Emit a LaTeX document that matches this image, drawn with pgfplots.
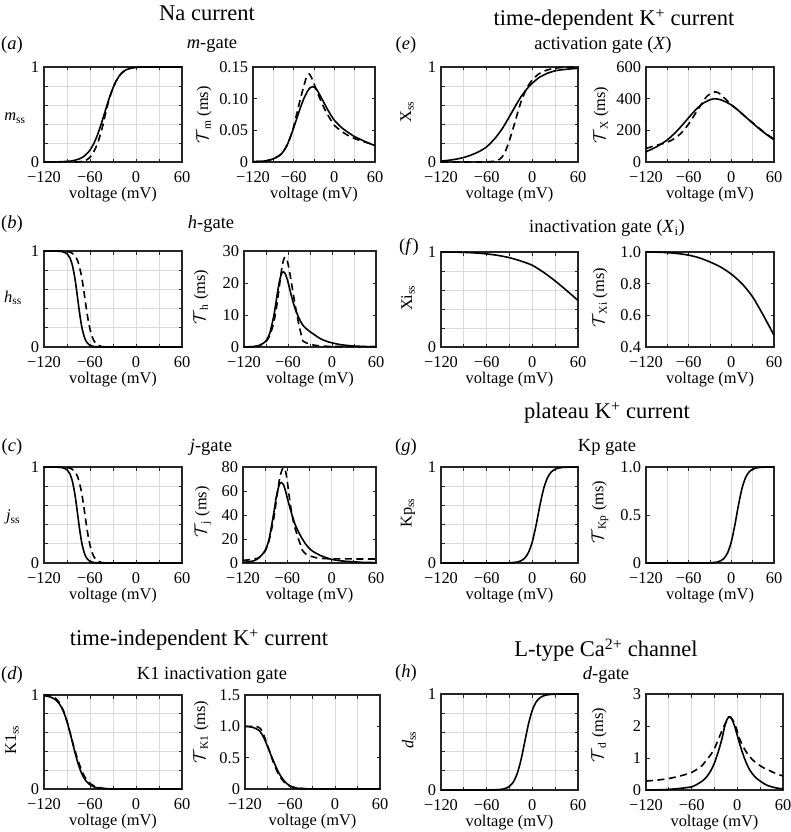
\documentclass[border=0pt]{standalone}
\usepackage{pgfplots}
\pgfplotsset{compat=1.18}
\usepackage{fontspec}
\setmainfont{Liberation Serif}
\definecolor{gridgray}{HTML}{DADADA}
\definecolor{framegray}{HTML}{262626}
\newcommand{\myLabFont}{\fontsize{16.4}{18}\selectfont}
\newcommand{\mySubFont}{\fontsize{18.5}{20}\selectfont}
\newcommand{\myTtlFont}{\fontsize{22.5}{24}\selectfont}
\pgfplotsset{
  base/.style={
    scale only axis, anchor=south west,
    xmin=-120, xmax=60, enlargelimits=false, clip=false,
    xtick={-120,-60,0,60}, xticklabels={−120,−60,0,60},
    minor xtick={-90,-30,30},
    tick label style={font=\myLabFont},
    xticklabel style={yshift=-6.5pt},
    yticklabel style={xshift=-1.5pt},
    xlabel style={font=\myLabFont, at={(axis description cs:0.5,0)}, anchor=north, yshift=-22pt},
    xlabel={voltage (mV)},
    axis line style={framegray, line width=1.1pt},
    every tick/.style={framegray, line width=0.9pt},
    major tick length=3.5pt, minor tick length=3.5pt,
    xmajorgrids, xminorgrids,
    grid style={gridgray, line width=0.9pt},
    minor grid style={gridgray, line width=0.9pt},
  },
  ssax/.style={base, ymin=0, ymax=1, ytick={0,1}, yticklabels={0,1},
    minor ytick={0.2,0.4,0.6,0.8}, ymajorgrids, yminorgrids},
  sol/.style={black, line width=1.6pt, smooth, tension=0.45},
  das/.style={black, line width=1.6pt, dash pattern=on 7pt off 4.5pt, smooth, tension=0.45},
}
\begin{document}
\begin{tikzpicture}
\path[use as bounding box] (0pt,0pt) rectangle (791pt,-832pt);

% ---------- titles ----------
\node[font=\myTtlFont] at (207pt,-13pt) {Na current};
\node[font=\myTtlFont] at (614pt,-20pt) {time-dependent K\textsuperscript{+} current};
\node[font=\myTtlFont] at (199pt,-640pt) {time-independent K\textsuperscript{+} current};
\node[font=\myTtlFont] at (607pt,-413pt) {plateau K\textsuperscript{+} current};
\node[font=\myTtlFont] at (606pt,-650pt) {L-type Ca\textsuperscript{2+} channel};

\node[font=\mySubFont] at (212pt,-45pt) {\textit{m}-gate};
\node[font=\mySubFont] at (211pt,-224pt) {\textit{h}-gate};
\node[font=\mySubFont] at (211pt,-447pt) {\textit{j}-gate};
\node[font=\mySubFont] at (212pt,-675pt) {K1 inactivation gate};
\node[font=\mySubFont] at (603pt,-45pt) {activation gate (\textit{X})};
\node[font=\mySubFont] at (607pt,-228pt) {inactivation gate (\textit{X}\textsubscript{i})};
\node[font=\mySubFont] at (607pt,-447pt) {Kp gate};
\node[font=\mySubFont] at (606pt,-675pt) {\textit{d}-gate};

\node[font=\mySubFont] at (12pt,-45pt) {(\textit{a})};
\node[font=\mySubFont] at (12pt,-224pt) {(\textit{b})};
\node[font=\mySubFont] at (12pt,-447pt) {(\textit{c})};
\node[font=\mySubFont] at (12pt,-675pt) {(\textit{d})};
\node[font=\mySubFont] at (406pt,-45pt) {(\textit{e})};
\node[font=\mySubFont] at (409pt,-247pt) {(\textit{f})};
\node[font=\mySubFont] at (406pt,-447pt) {(\textit{g})};
\node[font=\mySubFont] at (406pt,-673pt) {(\textit{h})};

% ---------- y labels ----------
\node[font=\myLabFont] at (15pt,-118pt) {\textit{m}\textsubscript{ss}};
\node[font=\myLabFont] at (13pt,-298pt) {\textit{h}\textsubscript{ss}};
\node[font=\myLabFont] at (13pt,-517pt) {\textit{j}\textsubscript{ss}};
\node[font=\myLabFont,rotate=90] at (12pt,-740pt) {K1\textsubscript{ss}};
\node[font=\myLabFont,rotate=90] at (204pt,-115pt) {$\mathcal{T}$\textsubscript{m} (ms)};
\node[font=\myLabFont,rotate=90] at (201pt,-297pt) {$\mathcal{T}$\textsubscript{h} (ms)};
\node[font=\myLabFont,rotate=90] at (203pt,-512pt) {$\mathcal{T}$\textsubscript{j} (ms)};
\node[font=\myLabFont,rotate=90] at (201pt,-732pt) {$\mathcal{T}$\textsubscript{K1} (ms)};
\node[font=\myLabFont,rotate=90] at (407pt,-112pt) {X\textsubscript{ss}};
\node[font=\myLabFont,rotate=90] at (408pt,-298pt) {Xi\textsubscript{ss}};
\node[font=\myLabFont,rotate=90] at (408pt,-513pt) {Kp\textsubscript{ss}};
\node[font=\myLabFont,rotate=90] at (409pt,-740pt) {\textit{d}\textsubscript{ss}};
\node[font=\myLabFont,rotate=90] at (601pt,-115pt) {$\mathcal{T}$\textsubscript{X} (ms)};
\node[font=\myLabFont,rotate=90] at (600pt,-298pt) {$\mathcal{T}$\textsubscript{Xi} (ms)};
\node[font=\myLabFont,rotate=90] at (600pt,-512pt) {$\mathcal{T}$\textsubscript{Kp} (ms)};
\node[font=\myLabFont,rotate=90] at (599pt,-735pt) {$\mathcal{T}$\textsubscript{d} (ms)};

% ================= (a) m gate =================
\begin{axis}[ssax, at={(44pt,-162pt)}, width=138pt, height=95pt]
\addplot[sol] coordinates {(-120,0)(-105,0.001)(-95,0.004)(-85,0.01)(-80,0.018)(-75,0.03)(-70,0.048)(-65,0.08)(-60,0.125)(-55,0.195)(-50,0.29)(-45,0.41)(-40,0.54)(-35,0.67)(-30,0.78)(-25,0.865)(-20,0.925)(-15,0.96)(-10,0.98)(-5,0.991)(0,0.996)(10,0.999)(20,1)(60,1)};
\addplot[das] coordinates {(-80,0)(-75,0.002)(-70,0.006)(-65,0.02)(-60,0.05)(-55,0.11)(-50,0.2)(-45,0.33)(-40,0.5)(-35,0.66)(-30,0.78)(-25,0.865)(-20,0.925)(-15,0.96)(-10,0.98)(-5,0.991)(0,0.996)(10,0.999)(20,1)(60,1)};
\end{axis}
\begin{axis}[base, at={(253pt,-162pt)}, width=122pt, height=95pt,
  ymin=0, ymax=0.15, ytick={0,0.05,0.10,0.15}, yticklabels={0,0.05,0.10,0.15}]
\addplot[sol] coordinates {(-120,0.0005)(-110,0.001)(-100,0.002)(-90,0.005)(-80,0.011)(-75,0.017)(-70,0.026)(-65,0.039)(-60,0.054)(-55,0.07)(-50,0.086)(-45,0.1)(-40,0.111)(-36,0.117)(-32,0.119)(-28,0.117)(-24,0.111)(-20,0.103)(-15,0.093)(-10,0.083)(-5,0.074)(0,0.066)(10,0.055)(20,0.047)(30,0.040)(40,0.035)(50,0.030)(60,0.026)};
\addplot[das] coordinates {(-120,0.0003)(-100,0.002)(-90,0.005)(-80,0.011)(-75,0.017)(-70,0.026)(-65,0.039)(-60,0.056)(-55,0.078)(-50,0.1)(-45,0.12)(-42,0.131)(-39,0.138)(-37,0.139)(-35,0.136)(-32,0.129)(-28,0.118)(-24,0.107)(-20,0.097)(-15,0.085)(-10,0.075)(-5,0.066)(0,0.058)(10,0.049)(20,0.042)(30,0.037)(40,0.033)(50,0.030)(60,0.027)};
\end{axis}

% ================= (b) h gate =================
\begin{axis}[ssax, at={(44pt,-347pt)}, width=138pt, height=96pt]
\addplot[sol] coordinates {(-120,1)(-100,0.9975)(-95,0.991)(-90,0.971)(-86,0.924)(-83,0.852)(-80,0.731)(-78,0.622)(-76,0.5)(-74,0.378)(-72,0.269)(-70,0.182)(-67,0.095)(-64,0.047)(-60,0.018)(-55,0.005)(-50,0.0015)(-45,0.0004)(-40,0)(60,0)};
\addplot[das] coordinates {(-120,1)(-100,0.999)(-90,0.995)(-85,0.985)(-80,0.955)(-77,0.914)(-75,0.872)(-72,0.775)(-70,0.687)(-68,0.583)(-66,0.471)(-65,0.414)(-63,0.31)(-60,0.186)(-57,0.103)(-55,0.067)(-52,0.034)(-50,0.021)(-45,0.005)(-40,0.001)(-35,0)(60,0)};
\end{axis}
\begin{axis}[base, at={(244pt,-347pt)}, width=132pt, height=96pt,
  ymin=0, ymax=30, ytick={0,10,20,30}, yticklabels={0,10,20,30}]
\addplot[sol] coordinates {(-120,0)(-110,0.1)(-100,0.4)(-95,1.0)(-90,1.9)(-85,4.2)(-80,9.0)(-77,13)(-74,17.5)(-71,21.3)(-68,23.3)(-66,23.5)(-64,23)(-62,21.8)(-60,20.3)(-57,17.5)(-54,14.8)(-50,11.8)(-45,9.0)(-40,6.9)(-35,5.7)(-30,4.8)(-25,4.0)(-20,3.2)(-15,2.5)(-10,2.0)(-5,1.6)(0,1.3)(10,0.8)(20,0.5)(30,0.3)(40,0.2)(50,0.12)(60,0.08)};
\addplot[das] coordinates {(-120,0.02)(-110,0.09)(-100,0.39)(-95,0.81)(-90,1.7)(-85,3.5)(-80,7.1)(-77,10.5)(-75,13.4)(-72,18.6)(-70,22.1)(-68,25.2)(-66,27.3)(-64,28.1)(-62,27.6)(-60,26.0)(-57,22.4)(-55,19.6)(-52,15.5)(-50,12.8)(-47,9.1)(-45,6.8)(-42,3.9)(-40.5,2.9)(-40,1.96)(-35,1.29)(-30,0.87)(-25,0.6)(-20,0.43)(-10,0.25)(0,0.18)(20,0.14)(60,0.13)};
\end{axis}

% ================= (c) j gate =================
\begin{axis}[ssax, at={(44pt,-563pt)}, width=138pt, height=96pt]
\addplot[sol] coordinates {(-120,1)(-100,0.9975)(-95,0.991)(-90,0.971)(-86,0.924)(-83,0.852)(-80,0.731)(-78,0.622)(-76,0.5)(-74,0.378)(-72,0.269)(-70,0.182)(-67,0.095)(-64,0.047)(-60,0.018)(-55,0.005)(-50,0.0015)(-45,0.0004)(-40,0)(60,0)};
\addplot[das] coordinates {(-120,1)(-100,0.999)(-90,0.995)(-85,0.985)(-80,0.955)(-77,0.914)(-75,0.872)(-72,0.775)(-70,0.687)(-68,0.583)(-66,0.471)(-65,0.414)(-63,0.31)(-60,0.186)(-57,0.103)(-55,0.067)(-52,0.034)(-50,0.021)(-45,0.005)(-40,0.001)(-35,0)(60,0)};
\end{axis}
\begin{axis}[base, at={(243pt,-563pt)}, width=133pt, height=96pt,
  ymin=0, ymax=80, ytick={0,20,40,60,80}, yticklabels={0,20,40,60,80}]
\addplot[sol] coordinates {(-120,0.5)(-110,1.2)(-105,1.9)(-100,3.6)(-95,6.4)(-90,10.6)(-85,19)(-80,35.8)(-77,47)(-75,55)(-72,63)(-70,66.5)(-68,67)(-65,65)(-62,59)(-60,54)(-55,42.8)(-50,33)(-45,26)(-40,20.4)(-35,15.6)(-30,12)(-25,9.5)(-20,7.8)(-15,6.2)(-10,5)(-5,3.9)(0,3)(10,2)(20,1.4)(30,1)(40,0.6)(50,0.45)(60,0.3)};
\addplot[das] coordinates {(-120,2.2)(-110,2.8)(-100,4)(-95,6)(-90,10)(-85,18)(-80,32)(-77,42)(-75,52)(-72,64)(-70,72)(-67,78)(-65,79.5)(-63,78)(-61,72)(-60,68)(-58,58)(-55,45)(-52,35)(-50,30)(-47,24)(-45,20)(-42,15)(-40,11)(-35,7.5)(-30,6)(-20,4.3)(-10,3.7)(0,3.5)(20,3.4)(60,3.35)};
\end{axis}

% ================= (d) K1 =================
\begin{axis}[ssax, at={(44pt,-789pt)}, width=138pt, height=94pt]
\addplot[sol] coordinates {(-120,0.993)(-115,0.986)(-110,0.973)(-105,0.949)(-100,0.906)(-95,0.832)(-90,0.718)(-85,0.566)(-80,0.401)(-75,0.256)(-70,0.15)(-65,0.083)(-60,0.045)(-55,0.023)(-50,0.012)(-45,0.006)(-40,0.003)(-30,0.001)(-20,0)(60,0)};
\addplot[das] coordinates {(-120,1.0)(-115,1.0)(-110,0.99)(-105,0.965)(-100,0.92)(-95,0.84)(-90,0.72)(-85,0.57)(-80,0.42)(-75,0.29)(-70,0.18)(-65,0.105)(-60,0.06)(-55,0.035)(-50,0.02)(-45,0.01)(-40,0.005)(-30,0.001)(-20,0)(60,0)};
\end{axis}
\begin{axis}[base, at={(245pt,-789pt)}, width=135pt, height=94pt,
  ymin=0, ymax=1.5, ytick={0,0.5,1.0,1.5}, yticklabels={0,0.5,1.0,1.5}]
\addplot[sol] coordinates {(-120,1.0)(-115,0.995)(-110,0.985)(-105,0.96)(-100,0.92)(-95,0.82)(-90,0.68)(-85,0.53)(-80,0.39)(-75,0.26)(-70,0.165)(-65,0.095)(-60,0.05)(-55,0.025)(-50,0.012)(-45,0.006)(-40,0.003)(-30,0.001)(-20,0)(60,0)};
\addplot[das] coordinates {(-120,1.0)(-110,1.0)(-105,1.0)(-100,0.97)(-97,0.92)(-95,0.86)(-90,0.7)(-85,0.52)(-80,0.36)(-75,0.23)(-70,0.14)(-65,0.08)(-60,0.045)(-55,0.028)(-50,0.018)(-45,0.01)(-40,0.005)(-30,0.001)(-20,0)(60,0)};
\end{axis}

% ================= (e) X gate =================
\begin{axis}[ssax, at={(441pt,-162pt)}, width=137pt, height=95pt]
\addplot[sol] coordinates {(-120,0.01)(-110,0.018)(-100,0.03)(-90,0.048)(-80,0.075)(-70,0.11)(-60,0.16)(-50,0.24)(-45,0.29)(-40,0.345)(-35,0.41)(-30,0.48)(-25,0.55)(-20,0.62)(-15,0.685)(-10,0.74)(-5,0.79)(0,0.83)(5,0.865)(10,0.895)(15,0.915)(20,0.935)(30,0.96)(40,0.972)(50,0.98)(60,0.986)};
\addplot[das] coordinates {(-120,0)(-70,0)(-60,0.002)(-50,0.008)(-45,0.02)(-40,0.05)(-35,0.12)(-30,0.23)(-25,0.36)(-20,0.5)(-15,0.63)(-10,0.73)(-5,0.81)(0,0.865)(5,0.905)(10,0.935)(20,0.97)(30,0.988)(40,0.995)(50,0.998)(60,1)};
\end{axis}
\begin{axis}[base, at={(646pt,-162pt)}, width=128pt, height=95pt,
  ymin=0, ymax=600, ytick={0,200,400,600}, yticklabels={0,200,400,600}]
\addplot[sol] coordinates {(-120,65)(-110,85)(-100,110)(-90,140)(-80,180)(-70,228)(-60,280)(-50,330)(-40,370)(-30,393)(-25,399)(-20,398)(-15,393)(-10,384)(0,360)(10,325)(20,285)(30,245)(40,207)(50,172)(60,140)};
\addplot[das] coordinates {(-120,85)(-110,100)(-100,112)(-90,125)(-80,148)(-70,185)(-60,240)(-50,310)(-40,380)(-35,412)(-30,430)(-25,440)(-22,443)(-18,437)(-10,405)(-5,384)(0,362)(10,325)(20,285)(30,248)(40,210)(50,175)(60,145)};
\end{axis}

% ================= (f) Xi gate =================
\begin{axis}[ssax, at={(441pt,-347pt)}, width=137pt, height=95pt]
\addplot[sol] coordinates {(-120,1)(-105,0.999)(-90,0.996)(-75,0.99)(-60,0.98)(-45,0.964)(-30,0.94)(-15,0.905)(0,0.86)(15,0.785)(30,0.695)(45,0.595)(60,0.49)};
\end{axis}
\begin{axis}[base, at={(646pt,-347pt)}, width=128pt, height=95pt,
  ymin=0.4, ymax=1.0, ytick={0.4,0.6,0.8,1.0}, yticklabels={0.4,0.6,0.8,1.0}]
\addplot[sol] coordinates {(-120,1)(-105,0.999)(-90,0.996)(-75,0.99)(-60,0.98)(-45,0.963)(-30,0.937)(-15,0.905)(0,0.86)(15,0.8)(30,0.716)(45,0.6)(60,0.474)};
\end{axis}

% ================= (g) Kp gate =================
\begin{axis}[ssax, at={(441pt,-563pt)}, width=137pt, height=96pt]
\addplot[sol] coordinates {(-120,0)(-40,0)(-30,0.002)(-20,0.01)(-15,0.023)(-10,0.051)(-5,0.11)(0,0.222)(5,0.397)(10,0.603)(15,0.778)(20,0.89)(25,0.949)(30,0.977)(35,0.99)(40,0.996)(50,0.999)(60,1)};
\end{axis}
\begin{axis}[base, at={(646pt,-563pt)}, width=128pt, height=96pt,
  ymin=0, ymax=1.0, ytick={0,0.5,1.0}, yticklabels={0,0.5,1.0}]
\addplot[sol] coordinates {(-120,0)(-40,0)(-30,0.002)(-20,0.01)(-15,0.023)(-10,0.051)(-5,0.11)(0,0.222)(5,0.397)(10,0.603)(15,0.778)(20,0.89)(25,0.949)(30,0.977)(35,0.99)(40,0.996)(50,0.999)(60,1)};
\end{axis}

% ================= (h) d gate =================
\begin{axis}[ssax, at={(441pt,-790pt)}, width=137pt, height=96pt]
\addplot[sol] coordinates {(-120,0)(-60,0)(-50,0.0016)(-45,0.0037)(-40,0.008)(-35,0.018)(-30,0.039)(-25,0.083)(-20,0.168)(-15,0.31)(-10,0.5)(-5,0.69)(0,0.832)(5,0.917)(10,0.961)(15,0.982)(20,0.992)(25,0.996)(30,0.998)(40,1)(60,1)};
\end{axis}
\begin{axis}[base, at={(646pt,-790pt)}, width=137pt, height=96pt,
  ymin=0, ymax=3, ytick={0,1,2,3}, yticklabels={0,1,2,3}]
\addplot[sol] coordinates {(-120,0)(-100,0.008)(-90,0.02)(-80,0.04)(-70,0.065)(-60,0.1)(-55,0.15)(-50,0.22)(-45,0.3)(-40,0.42)(-35,0.6)(-30,0.85)(-25,1.2)(-20,1.62)(-17,1.95)(-14,2.18)(-11,2.29)(-9,2.28)(-6,2.15)(-3,1.95)(0,1.7)(3,1.45)(6,1.22)(10,0.95)(15,0.68)(20,0.5)(25,0.37)(30,0.28)(35,0.2)(40,0.14)(45,0.1)(50,0.07)(55,0.05)(60,0.035)};
\addplot[das] coordinates {(-120,0.28)(-105,0.31)(-90,0.36)(-75,0.44)(-60,0.55)(-50,0.7)(-45,0.8)(-40,0.95)(-35,1.1)(-30,1.3)(-25,1.58)(-20,1.86)(-15,2.12)(-11,2.27)(-9,2.27)(-5,2.15)(-1,1.9)(3,1.6)(8,1.34)(12,1.18)(17,1.02)(23,0.88)(30,0.76)(37,0.66)(43,0.6)(50,0.52)(60,0.44)};
\end{axis}
\end{tikzpicture}
\end{document}
